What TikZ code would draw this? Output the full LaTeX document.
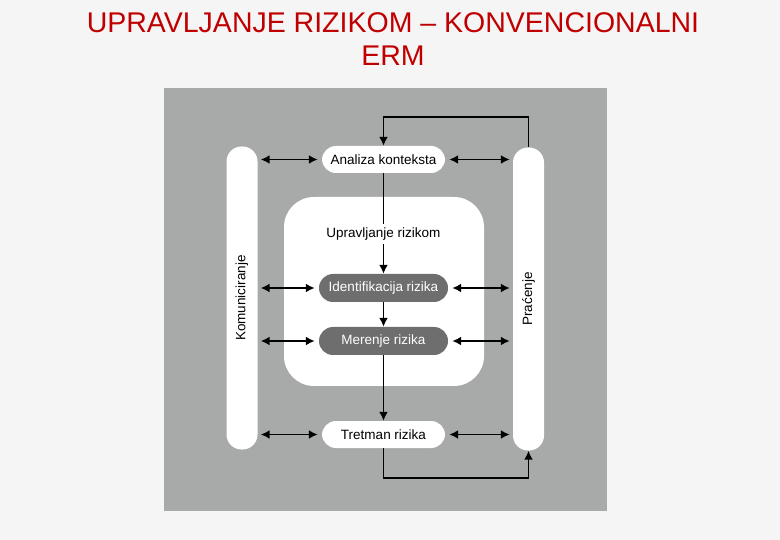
\documentclass[tikz,border=0pt]{standalone}
\usepackage{fontspec}
\setmainfont{Liberation Sans}
\usetikzlibrary{positioning,arrows.meta}
\definecolor{titlered}{RGB}{192,0,0}
\definecolor{panelgray}{RGB}{168,169,169}
\definecolor{stepgray}{RGB}{110,110,110}
\tikzset{
  pill/.style={fill=white,rounded corners=14pt,minimum width=123pt,minimum height=27pt,font=\fontsize{13.5}{16}\selectfont},
  darkpill/.style={pill,fill=stepgray,text=white,minimum width=129pt,minimum height=28pt},
  sidebar/.style={fill=white,rounded corners=15pt,minimum width=31pt,minimum height=303pt,inner sep=0pt},
  link/.style={line width=1.8pt,-{Latex[length=9pt,width=9pt]}},
  both/.style={line width=1.8pt,{Latex[length=9pt,width=9pt]}-{Latex[length=9pt,width=9pt]}}
}
\begin{document}
\begin{tikzpicture}[x=1pt,y=-1pt]
		\useasboundingbox[fill=white!96!black] (0,0) rectangle (780,540);
		\node[text=titlered,font=\fontsize{28.5}{33}\selectfont,align=center] (title) at (393,39) {UPRAVLJANJE RIZIKOM -- KONVENCIONALNI\\ERM};
		\fill[panelgray] (164,88) rectangle (607,511);
		\fill[white,rounded corners=30pt] (284,197) rectangle (484,386);
		% side bars
		\node[sidebar] (kom) at (242,298) {};
		\node[rotate=90,font=\fontsize{13.5}{16}\selectfont] at (kom) {Komuniciranje};
		\node[sidebar] (prac) at (528.5,299) {};
		\node[rotate=90,font=\fontsize{13.5}{16}\selectfont] at (prac) {Praćenje};
		% steps
		\node[pill] (ana) at (383.5,159.5) {Analiza konteksta};
		\node[font=\fontsize{13.5}{16}\selectfont] (upr) at (383.5,234) {Upravljanje rizikom};
		\node[darkpill] (ide) at (383.5,288) {Identifikacija rizika};
		\node[darkpill] (mer) at (383.5,341) {Merenje rizika};
		\node[pill] (tre) at (383.5,434.5) {Tretman rizika};
		% flow
		\draw[line width=1.8pt] (ana) -- (upr);
		\draw[link] (upr) -- (ide);
		\draw[link] (ide) -- (mer);
		\draw[link] (mer) -- (tre);
		\draw[link] (prac.north) |- (383.5,117) -- (ana);
		\draw[link] (tre) -- (383.5,478) -| (prac.south);
		% side links
		\foreach \n in {ana,ide,mer,tre}{
			\draw[both] (kom.east |- \n) ++(3,0) -- ([xshift=-4pt]\n.west);
			\draw[both] ([xshift=4pt]\n.east) -- ([xshift=-3pt]prac.west |- \n);
		}
	\end{tikzpicture}
\end{document}
